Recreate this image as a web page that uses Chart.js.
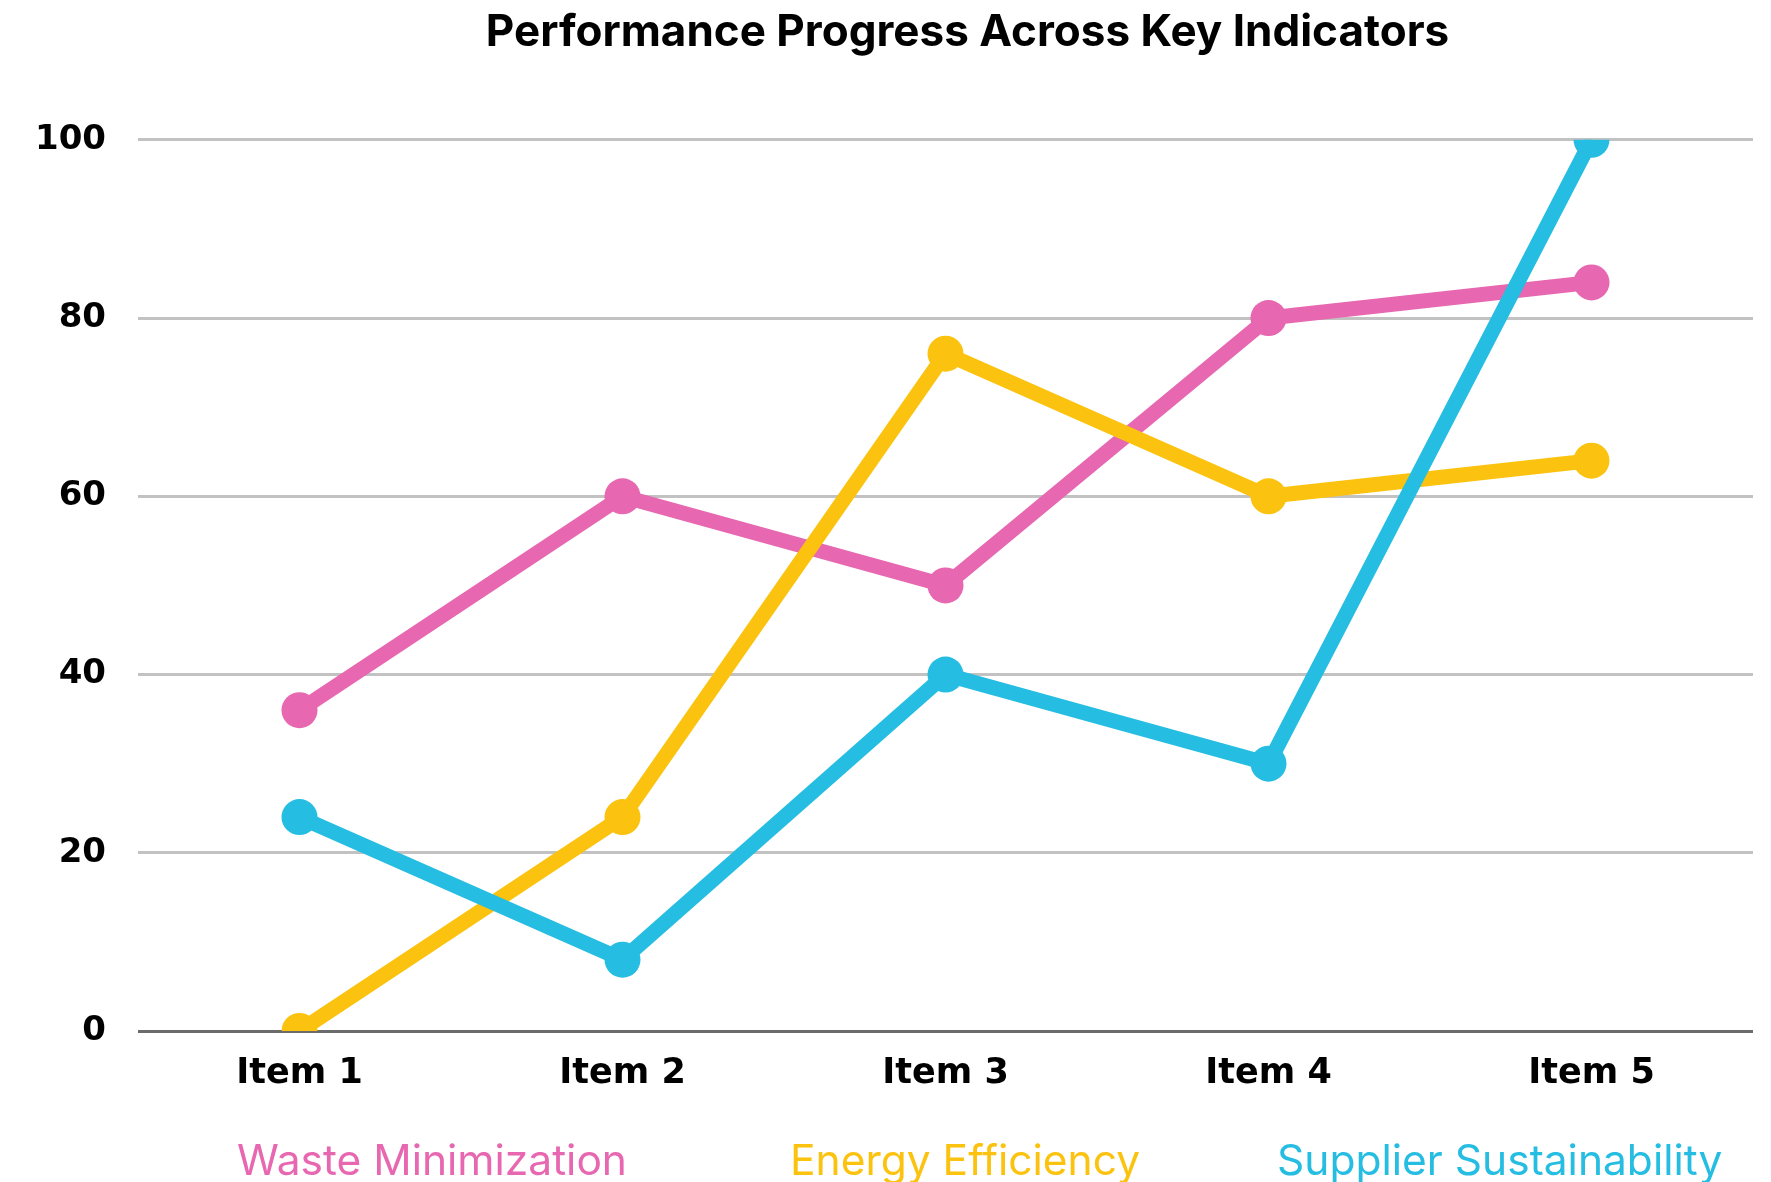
<!DOCTYPE html>
<html>
<head>
<meta charset="utf-8">
<script src="https://cdn.jsdelivr.net/npm/chart.js@4/dist/chart.umd.min.js"></script>
<style>
  body { margin: 0; background: #fff; }
  #box { width: 1771px; height: 1182px; }
</style>
</head>
<body>
<div id="box"><canvas id="linienDiagramm"></canvas></div>
<script>
// Daten
const categories = ['Item 1', 'Item 2', 'Item 3', 'Item 4', 'Item 5'];
const wasteMinimization = [36, 60, 50, 80, 84];
const energyEfficiency = [0, 24, 76, 60, 64];
const supplierSustainability = [24, 8, 40, 30, 100];
const yTicks = [0, 20, 40, 60, 80, 100];

const pink = '#E767B0';
const gelb = '#FBC30F';
const blau = '#26BDE2';

function linie(label, data, farbe, order) {
  return {
    label: label,
    data: data,
    borderColor: farbe,
    backgroundColor: farbe,
    borderWidth: 15,
    pointRadius: 18,
    pointBorderWidth: 0,
    pointBackgroundColor: farbe,
    tension: 0,
    order: order // blau oben, dann gelb, dann pink
  };
}

// Legende: nur farbiger Text, unter dem Diagramm
const textLegende = {
  id: 'textLegende',
  afterLayout(chart) {
    // Titel etwas nach rechts schieben
    if (chart.titleBlock) {
      chart.titleBlock.left += 22;
      chart.titleBlock.right += 22;
    }
  },
  afterDraw(chart) {
    const ctx = chart.ctx;
    const area = chart.chartArea;
    ctx.save();
    ctx.font = '400 42.5px Inter';
    ctx.textBaseline = 'middle';
    ctx.textAlign = 'left';
    let x = area.left + 99;
    const gaps = [163, 137];
    chart.data.datasets.forEach((ds, i) => {
      ctx.fillStyle = ds.borderColor;
      ctx.fillText(ds.label, x, 1162);
      x += ctx.measureText(ds.label).width + (gaps[i] || 0);
    });
    ctx.restore();
  }
};

const linienDiagramm = document.querySelector('#linienDiagramm');

new Chart(linienDiagramm, {
  type: 'line',
  data: {
    labels: categories,
    datasets: [
      linie('Waste Minimization', wasteMinimization, pink, 2),
      linie('Energy Efficiency', energyEfficiency, gelb, 1),
      linie('Supplier Sustainability', supplierSustainability, blau, 0)
    ]
  },
  plugins: [textLegende],
  options: {
    responsive: true,
    maintainAspectRatio: false,
    animation: false,
    layout: { padding: { left: 0, right: 15, top: 0, bottom: 57 } },
    scales: {
      y: {
        min: 0,
        max: 100,
        afterBuildTicks: function(scale) {
          scale.ticks = yTicks.map(v => ({ value: v }));
        },
        afterFit: function(scale) { scale.width = 138; },
        border: { display: false },
        grid: {
          drawTicks: false,
          lineWidth: 3,
          color: ctx => (ctx.tick && ctx.tick.value === 0) ? '#6b6b6b' : '#c2c2c2'
        },
        ticks: {
          color: '#000',
          padding: 32,
          font: { family: 'DejaVu Sans', weight: 'bold', size: 34 }
        }
      },
      x: {
        offset: true,
        afterFit: function(scale) { scale.height = 94; },
        border: { display: false },
        grid: { display: false, drawTicks: false },
        ticks: {
          color: '#000',
          padding: 22,
          font: { family: 'DejaVu Sans', weight: 'bold', size: 35 }
        }
      }
    },
    plugins: {
      title: {
        display: true,
        fullSize: false,
        text: 'Performance Progress Across Key Indicators',
        color: '#000',
        font: { family: 'Inter', weight: 'bold', size: 44 },
        padding: { top: 6, bottom: 81 }
      },
      legend: { display: false },
      tooltip: { enabled: false }
    }
  }
});
</script>
</body>
</html>
